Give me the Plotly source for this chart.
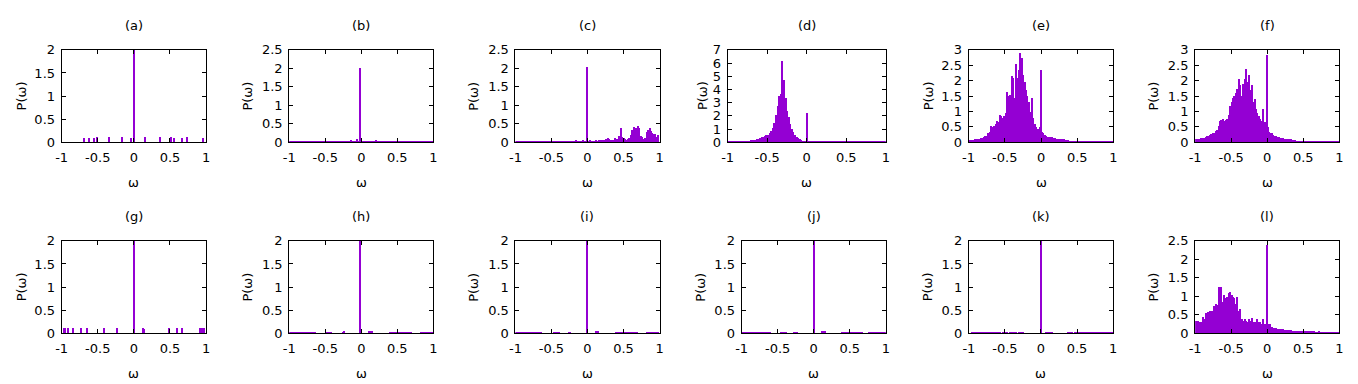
import numpy as np
import plotly.graph_objects as go

W, H = 1358, 384
# measured relation between figure pixels and photographed pixels:
# photo = S * figure + C
SX, CX = 0.9916, 13.4
SY, CY = 0.966, 13.3
PURPLE = "#9400D3"
FONT = "DejaVu Sans"
FS = 13

# ---------------- data ----------------
LABELS = ["(a)", "(b)", "(c)", "(d)", "(e)", "(f)",
          "(g)", "(h)", "(i)", "(j)", "(k)", "(l)"]
Y_MAX = [2, 2.5, 2.5, 7, 3, 3, 2, 2, 2, 2, 2, 2.5]
Y_STEP = [0.5, 0.5, 0.5, 1, 0.5, 0.5, 0.5, 0.5, 0.5, 0.5, 0.5, 0.5]
X_TICKS = [-1, -0.5, 0, 0.5, 1]
X_TICK_TEXT = ["-1", "-0.5", "0", "0.5", "1"]

# histogram bin centres (bin width 0.02)
OMEGA = np.round(np.linspace(-0.99, 0.99, 100), 2)

# central delta peaks
SPIKE_X = [0.0, -0.01, 0.0, 0.0, 0.0, 0.0, 0.0, -0.01, 0.0, 0.0, 0.0, 0.0]
SPIKE_H = [2.0, 2.02, 2.03, 2.2, 2.35, 2.85, 2.0, 2.0, 2.0, 2.0, 2.0, 2.4]
SPIKE_PX = [2, 2, 1, 2, 2, 1, 2, 2, 1, 2, 2, 1]

# sparse lines in (a) and (g)
A_X = [-0.69, -0.62, -0.55, -0.51, -0.35, -0.17, -0.04, 0.15, 0.36, 0.51, 0.56, 0.67, 0.74, 0.95]
A_Y = [0.1, 0.1, 0.1, 0.12, 0.12, 0.12, 0.1, 0.12, 0.12, 0.12, 0.1, 0.1, 0.12, 0.1]
G_X = [-0.97, -0.95, -0.92, -0.84, -0.73, -0.65, -0.41, -0.23, 0.12, 0.14,
       0.48, 0.59, 0.67, 0.91, 0.93, 0.95, 0.97]
G_Y = [0.12, 0.12, 0.12, 0.12, 0.11, 0.11, 0.11, 0.11, 0.12, 0.1,
       0.11, 0.11, 0.11, 0.12, 0.12, 0.12, 0.12]

B_Y = [0.03, 0.03, 0.03, 0.03, 0.03, 0.03, 0.03, 0.03, 0.03, 0.03,
       0.03, 0.03, 0.03, 0.03, 0.03, 0.03, 0.03, 0.03, 0.03, 0.03,
       0.03, 0.03, 0.03, 0.03, 0.03, 0.03, 0.03, 0.03, 0.03, 0.03,
       0.03, 0.03, 0.03, 0.03, 0.03, 0.03, 0.03, 0.03, 0.03, 0.03,
       0.03, 0.03, 0.04, 0.06, 0.03, 0.05, 0.04, 0.09, 0.04, 0.04,
       0.03, 0.03, 0.04, 0.05, 0.03, 0.03, 0.03, 0.03, 0.03, 0.04,
       0.06, 0.03, 0.03, 0.03, 0.03, 0.03, 0.03, 0.03, 0.03, 0.03,
       0.03, 0.03, 0.03, 0.03, 0.03, 0.03, 0.03, 0.03, 0.03, 0.03,
       0.03, 0.03, 0.03, 0.03, 0.03, 0.03, 0.03, 0.03, 0.03, 0.03,
       0.03, 0.03, 0.03, 0.03, 0.03, 0.03, 0.03, 0.03, 0.03, 0.03]

C_Y = [0.03, 0.03, 0.03, 0.03, 0.03, 0.03, 0.03, 0.03, 0.03, 0.03,
       0.03, 0.03, 0.03, 0.03, 0.03, 0.03, 0.03, 0.03, 0.03, 0.03,
       0.03, 0.03, 0.03, 0.03, 0.03, 0.03, 0.03, 0.03, 0.03, 0.03,
       0.03, 0.03, 0.03, 0.03, 0.03, 0.03, 0.03, 0.03, 0.03, 0.03,
       0.03, 0.03, 0.08, 0.04, 0.04, 0.04, 0.03, 0.06, 0.03, 0.04,
       0.04, 0.05, 0.06, 0.05, 0.04, 0.05, 0.06, 0.05, 0.06, 0.06,
       0.06, 0.07, 0.06, 0.09, 0.13, 0.1, 0.08, 0.07, 0.08, 0.12,
       0.1, 0.1, 0.18, 0.38, 0.14, 0.12, 0.1, 0.08, 0.1, 0.12,
       0.2, 0.35, 0.42, 0.4, 0.38, 0.45, 0.38, 0.18, 0.15, 0.1,
       0.12, 0.28, 0.35, 0.38, 0.32, 0.25, 0.22, 0.22, 0.15, 0.2]

D_Y = [0.07, 0.07, 0.07, 0.07, 0.07, 0.07, 0.07, 0.07, 0.08, 0.08,
       0.08, 0.09, 0.1, 0.15, 0.17, 0.18, 0.18, 0.2, 0.25, 0.3,
       0.32, 0.4, 0.45, 0.5, 0.55, 0.6, 0.7, 0.85, 1.1, 1.5,
       2.1, 2.8, 3.5, 3.7, 6.2, 4.7, 3.4, 2.4, 1.9, 1.4,
       1.0, 0.8, 0.6, 0.45, 0.35, 0.25, 0.2, 0.15, 0.1, 0.1,
       0.09, 0.09, 0.09, 0.09, 0.09, 0.09, 0.09, 0.09, 0.09, 0.09,
       0.08, 0.08, 0.08, 0.08, 0.08, 0.08, 0.08, 0.07, 0.07, 0.07,
       0.07, 0.07, 0.07, 0.07, 0.07, 0.07, 0.07, 0.07, 0.07, 0.07,
       0.06, 0.06, 0.06, 0.06, 0.06, 0.06, 0.06, 0.06, 0.06, 0.06,
       0.06, 0.06, 0.06, 0.06, 0.06, 0.06, 0.06, 0.06, 0.06, 0.06]

E_Y = [0.08, 0.08, 0.09, 0.09, 0.1, 0.12, 0.12, 0.13, 0.14, 0.15,
       0.18, 0.2, 0.22, 0.3, 0.35, 0.55, 0.5, 0.55, 0.6, 0.7,
       0.65, 0.9, 0.85, 0.8, 0.85, 0.95, 1.65, 1.5, 1.55, 2.15,
       2.1, 1.45, 2.55, 2.1, 2.35, 2.9, 2.75, 2.2, 1.95, 1.7,
       1.5, 1.3, 1.0, 1.45, 0.8, 0.6, 0.5, 0.45, 0.45, 0.5,
       0.35, 0.3, 0.25, 0.2, 0.18, 0.18, 0.17, 0.17, 0.16, 0.15,
       0.13, 0.12, 0.12, 0.11, 0.1, 0.1, 0.09, 0.08, 0.07, 0.06,
       0.06, 0.05, 0.05, 0.05, 0.05, 0.05, 0.05, 0.04, 0.04, 0.04,
       0.04, 0.04, 0.04, 0.04, 0.04, 0.04, 0.04, 0.04, 0.04, 0.04,
       0.04, 0.04, 0.04, 0.04, 0.04, 0.04, 0.04, 0.04, 0.04, 0.04]

F_Y = [0.1, 0.12, 0.1, 0.12, 0.15, 0.15, 0.14, 0.18, 0.2, 0.2,
       0.25, 0.28, 0.3, 0.3, 0.38, 0.4, 0.55, 0.7, 0.72, 0.75,
       0.7, 0.72, 0.75, 0.9, 1.2, 1.3, 1.45, 1.5, 1.6, 1.75,
       2.05, 1.85, 1.5, 1.9, 2.05, 2.4, 1.95, 2.2, 1.7, 1.85,
       1.3, 1.4, 1.1, 0.95, 0.85, 0.75, 0.7, 1.1, 0.65, 0.6,
       0.5, 0.35, 0.3, 0.3, 0.25, 0.22, 0.2, 0.18, 0.17, 0.16,
       0.15, 0.14, 0.13, 0.12, 0.11, 0.1, 0.1, 0.09, 0.08, 0.07,
       0.06, 0.06, 0.05, 0.05, 0.05, 0.05, 0.05, 0.05, 0.05, 0.05,
       0.04, 0.04, 0.04, 0.04, 0.04, 0.04, 0.04, 0.04, 0.04, 0.04,
       0.04, 0.04, 0.04, 0.04, 0.04, 0.04, 0.04, 0.04, 0.04, 0.04]

H_Y = [0.03, 0.03, 0.03, 0.03, 0.03, 0.03, 0.03, 0.03, 0.03, 0.03,
       0.03, 0.03, 0.03, 0.03, 0.03, 0.03, 0.03, 0.03, 0.03, 0,
       0, 0, 0, 0, 0, 0, 0.03, 0.03, 0.03, 0.03,
       0, 0, 0, 0, 0, 0, 0, 0.03, 0.05, 0,
       0, 0, 0, 0, 0, 0, 0, 0, 0, 0,
       0, 0, 0, 0, 0, 0.05, 0.05, 0.05, 0, 0,
       0, 0, 0, 0, 0, 0, 0, 0, 0, 0,
       0.03, 0.03, 0.03, 0.03, 0.03, 0.03, 0.03, 0.03, 0.03, 0.03,
       0.03, 0.03, 0.03, 0.03, 0.03, 0, 0, 0, 0, 0,
       0, 0.03, 0.03, 0.03, 0.03, 0.03, 0.03, 0.03, 0.03, 0.03]

I_Y = [0.03, 0.03, 0.03, 0.03, 0.03, 0.03, 0.03, 0.03, 0.03, 0.03,
       0.03, 0.03, 0.03, 0.03, 0.03, 0.03, 0.03, 0.03, 0.03, 0,
       0, 0, 0, 0, 0, 0, 0, 0.03, 0.03, 0.03,
       0.03, 0, 0, 0, 0, 0, 0, 0.03, 0.03, 0,
       0, 0, 0, 0, 0, 0, 0, 0, 0, 0,
       0, 0, 0, 0, 0, 0, 0.05, 0.05, 0, 0,
       0, 0, 0, 0, 0, 0, 0, 0, 0, 0,
       0.03, 0.03, 0.03, 0.03, 0.03, 0.03, 0.03, 0.03, 0.03, 0.03,
       0.03, 0.03, 0.03, 0.03, 0.03, 0, 0, 0, 0, 0,
       0, 0.03, 0.03, 0.03, 0.03, 0.03, 0.03, 0.03, 0.03, 0.03]

J_Y = [0.03, 0.03, 0.03, 0.03, 0.03, 0.03, 0.03, 0.03, 0.03, 0.03,
       0.03, 0.03, 0.03, 0.03, 0.03, 0.03, 0.03, 0.03, 0.03, 0.03,
       0, 0, 0, 0, 0, 0, 0, 0.025, 0.025, 0.025,
       0.025, 0, 0, 0, 0, 0, 0.025, 0.025, 0.025, 0,
       0, 0, 0, 0, 0, 0, 0, 0, 0, 0,
       0, 0, 0, 0, 0, 0.05, 0.05, 0.05, 0, 0,
       0, 0, 0, 0, 0, 0, 0, 0, 0, 0.03,
       0.03, 0.03, 0.03, 0.03, 0.03, 0.03, 0.03, 0.03, 0.03, 0.03,
       0.03, 0.03, 0.03, 0.03, 0, 0, 0, 0, 0.03, 0.03,
       0.03, 0.03, 0.03, 0.03, 0.03, 0.03, 0.03, 0.03, 0.03, 0.03]

K_Y = [0, 0, 0.025, 0.025, 0.025, 0.025, 0.025, 0.025, 0.025, 0.025,
       0.025, 0.025, 0.025, 0.025, 0.025, 0.025, 0.025, 0.025, 0.025, 0.025,
       0.025, 0.025, 0, 0.025, 0.025, 0.025, 0.025, 0, 0.025, 0.025,
       0.025, 0.025, 0.025, 0, 0.025, 0.025, 0.025, 0.025, 0, 0,
       0, 0, 0, 0, 0, 0, 0, 0, 0, 0,
       0, 0, 0, 0.03, 0.03, 0.03, 0.03, 0.03, 0, 0,
       0, 0, 0, 0, 0, 0, 0, 0, 0.025, 0.025,
       0.025, 0.025, 0, 0.025, 0.025, 0.025, 0.025, 0.025, 0.025, 0.025,
       0.025, 0.025, 0.025, 0.025, 0.025, 0.025, 0.025, 0.025, 0.025, 0.025,
       0.025, 0.025, 0.025, 0.025, 0.025, 0.025, 0.025, 0.025, 0.025, 0.025]

L_Y = [0.35, 0.33, 0.35, 0.3, 0.3, 0.45, 0.4, 0.55, 0.55, 0.58,
       0.6, 0.6, 0.62, 0.75, 0.8, 0.78, 1.25, 0.95, 1.25, 0.85,
       1.05, 0.95, 1.0, 1.1, 1.12, 1.05, 1.0, 0.95, 0.8, 1.0,
       0.6, 0.65, 0.4, 0.35, 0.38, 0.35, 0.32, 0.4, 0.35, 0.42,
       0.3, 0.3, 0.32, 0.38, 0.3, 0.3, 0.25, 0.38, 0.25, 0.2,
       0.25, 0.2, 0.25, 0.18, 0.15, 0.15, 0.14, 0.13, 0.13, 0.12,
       0.12, 0.11, 0.1, 0.1, 0.1, 0.09, 0.09, 0.08, 0.08, 0.08,
       0.08, 0.07, 0.07, 0.07, 0.07, 0.07, 0.06, 0.07, 0.06, 0.06,
       0.06, 0.06, 0.06, 0.05, 0.05, 0.05, 0.06, 0.05, 0.05, 0.05,
       0.05, 0.04, 0.05, 0.05, 0.04, 0.04, 0.05, 0.04, 0.03, 0.03]

HISTS = [(A_X, A_Y), (OMEGA, B_Y), (OMEGA, C_Y), (OMEGA, D_Y), (OMEGA, E_Y), (OMEGA, F_Y),
         (G_X, G_Y), (OMEGA, H_Y), (OMEGA, I_Y), (OMEGA, J_Y), (OMEGA, K_Y), (OMEGA, L_Y)]

# ---------------- layout (photo-pixel boxes of the plot frames) ----------------
PLOT_X = [(61, 205.3), (288.3, 432.3), (514.3, 658.3), (726.3, 884.3), (967, 1111.7), (1193.3, 1337.3),
          (61, 205.3), (288.3, 432.3), (514.3, 658.3), (740.3, 884.3), (967.3, 1111.3), (1193.3, 1337.3)]
ROW_Y = [(48.3, 141.3), (240.3, 333.3)]
YTITLE_X = [20.7, 246.7, 471.7, 700.7, 926.7, 1151.7,
            20.7, 246.7, 471.7, 698.3, 925.7, 1151.7]


def px_x(p):
    return ((p - CX) / SX) / W


def px_y(p):
    return 1 - ((p - CY) / SY) / H


fig = go.Figure()
annotations = []
layout = {}

for i in range(12):
    n = i + 1
    xa, ya = ("x", "y") if n == 1 else (f"x{n}", f"y{n}")
    x0, x1 = PLOT_X[i]
    t0, t1 = ROW_Y[i // 6]
    pw = x1 - x0

    hx, hy = HISTS[i]
    fig.add_trace(go.Bar(
        x=hx, y=hy, width=0.02, xaxis=xa, yaxis=ya,
        marker=dict(color=PURPLE, line=dict(width=0)),
        showlegend=False, hoverinfo="skip"))
    fig.add_trace(go.Bar(
        x=[SPIKE_X[i]], y=[SPIKE_H[i]], width=SPIKE_PX[i] * 2 / pw, xaxis=xa, yaxis=ya,
        marker=dict(color=PURPLE, line=dict(width=0)),
        showlegend=False, hoverinfo="skip"))

    common = dict(showline=True, linecolor="black", linewidth=1, mirror="ticks",
                  ticks="inside", ticklen=4, tickwidth=1, tickcolor="black",
                  showgrid=False, zeroline=False,
                  tickfont=dict(family=FONT, size=FS, color="black"))
    yt = list(np.round(np.arange(0, Y_MAX[i] + 1e-9, Y_STEP[i]), 2))
    key = "" if n == 1 else str(n)
    layout["xaxis" + key] = dict(domain=[px_x(x0), px_x(x1)], range=[-1, 1],
                                 anchor=ya, tickvals=X_TICKS, ticktext=X_TICK_TEXT,
                                 ticklabelstandoff=3, **common)
    layout["yaxis" + key] = dict(domain=[px_y(t1), px_y(t0)], range=[0, Y_MAX[i]],
                                 anchor=xa, tickvals=yt, ticklabelstandoff=3, **common)

    cx = (x0 + x1) / 2
    off = 0 if i < 6 else 192
    annotations.append(dict(text=LABELS[i], x=px_x(cx), y=px_y(24 + off), xref="paper", yref="paper",
                            showarrow=False, xanchor="center", yanchor="middle",
                            font=dict(family=FONT, size=FS, color="black")))
    annotations.append(dict(text="ω", x=px_x(cx), y=px_y(182 + off), xref="paper", yref="paper",
                            showarrow=False, xanchor="center", yanchor="middle",
                            font=dict(family=FONT, size=FS, color="black")))
    annotations.append(dict(text="P(ω)", x=px_x(YTITLE_X[i]), y=px_y((t0 + t1) / 2),
                            xref="paper", yref="paper", textangle=-90,
                            showarrow=False, xanchor="center", yanchor="middle",
                            font=dict(family=FONT, size=FS, color="black")))

fig.update_layout(
    width=W, height=H,
    margin=dict(l=0, r=0, t=0, b=0),
    paper_bgcolor="white", plot_bgcolor="white",
    barmode="overlay", bargap=0,
    annotations=annotations,
    **layout)

fig.write_html("out.html")
